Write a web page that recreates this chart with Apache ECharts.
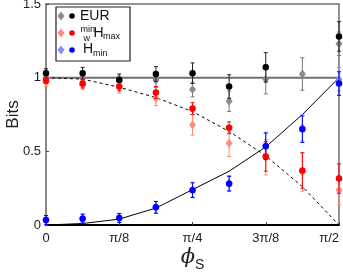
<!DOCTYPE html>
<html><head><meta charset="utf-8">
<script src="https://cdn.jsdelivr.net/npm/echarts@6/dist/echarts.min.js"></script>
<style>html,body{margin:0;padding:0;background:#fff}#c{width:343px;height:276px}</style>
</head><body><div id="c"></div>
<script>
// x positions in units of pi/16
const xSteps = [0, 1, 2, 3, 4, 5, 6, 7, 8];
const xTickLabels = {0: '0', 2: 'π/8', 4: 'π/4', 6: '3π/8', 8: 'π/2'};
const yTickLabels = {0: '0', 0.5: '0.5', 1: '1', 1.5: '1.5'};

// theory curves
const eurTheory  = [1, 1, 1, 1, 1, 1, 1, 1, 1];
const hmaxTheory = [1.0, 0.99, 0.935, 0.865, 0.77, 0.635, 0.47, 0.26, 0.0];
const hminTheory = [0.0, 0.01, 0.04, 0.115, 0.24, 0.365, 0.53, 0.75, 1.0];

// measured (dots) and alternative (diamonds)
const eurDot      = [1.03, 1.03, 0.985, 1.025, 1.03, 0.94, 1.07, null, 1.28];
const eurDotErr   = [0.03, 0.04, 0.04, 0.05, 0.07, 0.08, 0.10, null, 0.10];
const eurDia      = [1.00, 1.00, 0.98, 0.985, 0.92, 0.84, 0.99, 1.025, 1.23];
const eurDiaErr   = [0.03, 0.03, 0.03, 0.05, 0.05, 0.07, 0.10, 0.11, 0.08];
const hmaxDot     = [0.98, 0.96, 0.94, 0.90, 0.79, 0.66, 0.465, 0.37, 0.315];
const hmaxDotErr  = [0.02, 0.03, 0.03, 0.04, 0.04, 0.04, 0.10, 0.12, 0.10];
const hmaxDia     = [0.97, 0.95, 0.935, 0.86, 0.68, 0.555, 0.46, 0.36, 0.237];
const hmaxDiaErr  = [0.03, 0.03, 0.04, 0.05, 0.07, 0.09, 0.12, 0.13, 0.10];
const hminDot     = [0.034, 0.043, 0.047, 0.12, 0.236, 0.28, 0.534, 0.65, 0.96];
const hminDotErr  = [0.03, 0.03, 0.03, 0.04, 0.05, 0.05, 0.09, 0.09, 0.08];
const hminDia     = [0.035, 0.045, 0.05, 0.12, 0.24, 0.285, 0.54, 0.66, 0.99];
const hminDiaErr  = [0.03, 0.03, 0.03, 0.04, 0.05, 0.05, 0.09, 0.09, 0.08];

const pairs = (ys) => xSteps.map((x, i) => [x, ys[i]]);
const errData = (ys, es) => xSteps.map((x, i) => ys[i] == null ? [x, '-', 0] : [x, ys[i], es[i]]);

function errSeries(ys, es, color, z) {
  return {
    type: 'custom', z: z, silent: true,
    data: errData(ys, es),
    renderItem: function (params, api) {
      const y = api.value(1);
      if (y === '-' || isNaN(y)) return null;
      const x = api.value(0), e = api.value(2);
      const top = api.coord([x, y + e]);
      const bot = api.coord([x, y - e]);
      const w = 2;
      const st = {stroke: color, lineWidth: 1};
      return {type: 'group', children: [
        {type: 'line', shape: {x1: top[0], y1: top[1], x2: bot[0], y2: bot[1]}, style: st},
        {type: 'line', shape: {x1: top[0] - w, y1: top[1], x2: top[0] + w, y2: top[1]}, style: st},
        {type: 'line', shape: {x1: bot[0] - w, y1: bot[1], x2: bot[0] + w, y2: bot[1]}, style: st}
      ]};
    }
  };
}
function scat(ys, color, symbol, size, z) {
  return {type: 'scatter', data: pairs(ys).filter(p => p[1] != null), symbol: symbol,
    symbolSize: size, itemStyle: {color: color, opacity: 1}, z: z, silent: true};
}

const cGray = '#8c8c8c', cSalmon = '#ff8c7c', cLblue = '#8c8cff';
const series = [
  {type: 'line', data: pairs(eurTheory), symbol: 'none', lineStyle: {color: '#707070', width: 2}, z: 1, silent: true},
  {type: 'line', data: pairs(hmaxTheory), symbol: 'none', lineStyle: {color: '#000', width: 1, type: [3, 3]}, z: 1, silent: true},
  {type: 'line', data: pairs(hminTheory), symbol: 'none', lineStyle: {color: '#000', width: 1}, z: 1, silent: true},
  errSeries(eurDia, eurDiaErr, '#777', 2),
  errSeries(hmaxDia, hmaxDiaErr, cSalmon, 2),
  errSeries(hminDia, hminDiaErr, cLblue, 2),
  scat(eurDia, cGray, 'diamond', [7, 9], 3),
  scat(hmaxDia, cSalmon, 'diamond', [7, 9], 3),
  scat(hminDia, cLblue, 'diamond', [7, 9], 3),
  errSeries(eurDot, eurDotErr, '#222', 4),
  errSeries(hmaxDot, hmaxDotErr, '#f00', 4),
  errSeries(hminDot, hminDotErr, '#00f', 4),
  scat(eurDot, '#000', 'circle', 6.5, 5),
  scat(hmaxDot, '#f00', 'circle', 6.5, 5),
  scat(hminDot, '#00f', 'circle', 6.5, 5)
];

const FONT = 'Liberation Sans, Arial, sans-serif';
const legendRows = [
  {y: 16, dia: cGray, dot: '#000'},
  {y: 33, dia: cSalmon, dot: '#f00'},
  {y: 50, dia: cLblue, dot: '#00f'}
];
const graphic = [
  {type: 'rect', shape: {x: 56, y: 7, width: 74, height: 54}, style: {fill: '#fff', stroke: '#222', lineWidth: 1.2}, z: 100}
];
legendRows.forEach(r => {
  graphic.push({type: 'polygon', shape: {points: [[61, r.y - 4.5], [64.5, r.y], [61, r.y + 4.5], [57.5, r.y]]}, style: {fill: r.dia}, z: 101});
  graphic.push({type: 'circle', shape: {cx: 72, cy: r.y, r: 2.8}, style: {fill: r.dot}, z: 101});
});
const txt = (x, y, t, size) => ({type: 'text', x: x, y: y, z: 102,
  style: {text: t, font: size + 'px ' + FONT, fill: '#111', verticalAlign: 'middle', align: 'left'}});
graphic.push(txt(80, 16, 'EUR', 14));
graphic.push(txt(80.5, 30, 'min', 9));
graphic.push(txt(83.5, 38.5, 'w', 9));
graphic.push(txt(93.5, 33, 'H', 14));
graphic.push(txt(103, 37, 'max', 9));
graphic.push(txt(83, 49, 'H', 14));
graphic.push(txt(93, 53.5, 'min', 9));

const option = {
  animation: false,
  grid: {left: 46, right: 4, top: 4, bottom: 51, outerBoundsMode: 'none', containLabel: false,
    show: true, borderColor: '#707070', borderWidth: 1.5},
  xAxis: {
    type: 'value', min: 0, max: 8, interval: 2,
    axisLine: {show: true, onZero: false, lineStyle: {color: '#000', width: 2}},
    axisTick: {show: true, inside: true, length: 3, lineStyle: {color: '#444'}},
    splitLine: {show: false},
    axisLabel: {formatter: v => xTickLabels[v] || '', color: '#222', fontSize: 13, fontFamily: FONT, margin: 7,
      alignMaxLabel: 'right'},
    name: '{p|ϕ}{s|S}', nameLocation: 'middle', nameGap: 19, nameMoveOverlap: false,
    nameTextStyle: {rich: {
      p: {fontFamily: 'DejaVu Serif, serif', fontStyle: 'italic', fontSize: 21, color: '#222'},
      s: {fontFamily: FONT, fontSize: 14, color: '#222', padding: [14, 0, 0, 0]}
    }}
  },
  yAxis: {
    type: 'value', min: 0, max: 1.5, interval: 0.5,
    axisLine: {show: true, lineStyle: {color: '#888', width: 2}},
    axisTick: {show: true, inside: true, length: 3, lineStyle: {color: '#444'}},
    splitLine: {show: false},
    axisLabel: {formatter: v => yTickLabels[v] || '', color: '#222', fontSize: 13, fontFamily: FONT, margin: 5},
    name: 'Bits', nameLocation: 'middle', nameGap: 24, nameRotate: 90, nameMoveOverlap: false,
    nameTextStyle: {fontSize: 17, color: '#222', fontFamily: FONT}
  },
  graphic: graphic,
  series: series
};
echarts.init(document.getElementById('c'), null, {renderer: 'canvas'}).setOption(option);
</script></body></html>
